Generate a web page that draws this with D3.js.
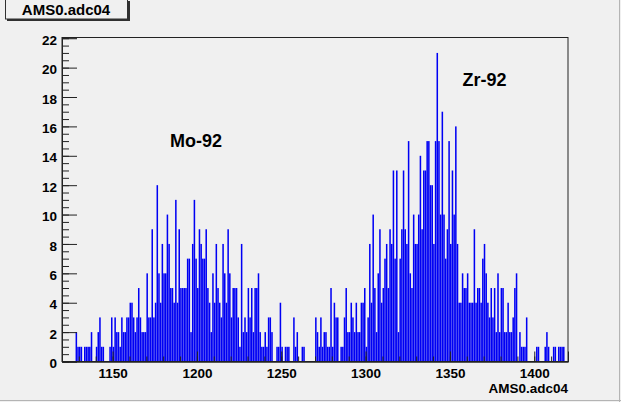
<!DOCTYPE html>
<html>
<head>
<meta charset="utf-8">
<script src="https://cdn.jsdelivr.net/npm/d3@7"></script>
<style>
  html, body { margin: 0; padding: 0; background: #f0f0f0; }
  svg { display: block; }
  text { font-family: "Liberation Sans", Arial, Helvetica, sans-serif; font-weight: bold; }
</style>
</head>
<body>
<svg id="chart" width="621" height="402"></svg>
<script>
// ---- data ----
const histTitle = "AMS0.adc04";
const xAxisTitle = "AMS0.adc04";
const binLow = 1120;       // low edge of first bin
const binWidth = 1;
const counts = [
  0,0,0,0,0,0,0,0,2,1, 1,1,0,1,1,1,1,2,0,0,
  1,2,3,1,1,0,0,0,1,3, 1,3,2,2,1,3,2,2,3,3,
  4,4,3,2,3,5,3,2,2,2, 6,3,3,9,3,4,12,6,4,8,
  6,6,10,8,5,5,4,11,4,9, 5,5,5,5,7,7,2,8,11,7,
  5,9,8,7,7,9,5,4,2,6, 4,8,5,4,3,8,6,4,9,6,
  3,5,5,5,3,1,8,2,3,2, 5,3,5,2,5,5,6,2,1,1,
  2,1,3,3,2,0,0,1,1,4, 1,0,1,1,1,0,0,3,1,2,
  0,0,1,1,0,0,0,0,0,0, 3,2,1,3,1,2,2,1,1,5,
  1,4,3,3,0,1,1,3,5,2, 2,4,3,2,4,2,2,4,4,5,
  1,3,8,4,10,5,2,6,9,4, 5,7,8,5,9,8,13,7,13,2,
  7,9,13,9,8,15,6,5,10,8, 8,10,14,9,13,13,15,15,12,12,
  8,15,21,15,10,17,10,7,9,15, 8,13,10,16,8,4,4,6,5,5,
  6,4,4,4,9,4,5,5,4,7, 8,6,4,3,5,3,5,2,6,2,
  5,5,2,2,4,2,2,3,5,6, 0,2,1,1,1,3,0,0,0,0,
  0,1,1,0,0,0,1,2,1,0, 0,1,1,0,1,1,1,1,0,0
];
const xMajorTicks = [1150, 1200, 1250, 1300, 1350, 1400];
const yMajorTicks = [0, 2, 4, 6, 8, 10, 12, 14, 16, 18, 20, 22];
const peakLabels = ["Mo-92", "Zr-92"];
const peakLabelAt = [[1199.5, 14.6], [1370.5, 18.75]];

// ---- layout ----
const W = 621, H = 402;
const frame = { left: 62, right: 568, top: 37.5, bottom: 361.5 };
const svg = d3.select("#chart");

svg.append("rect").attr("x", 0).attr("y", 0).attr("width", W).attr("height", H).attr("fill", "#f0f0f0");
// window border lines
svg.append("line").attr("x1", 0).attr("x2", W).attr("y1", 400.5).attr("y2", 400.5).attr("stroke", "#b4b4b4");
svg.append("line").attr("x1", 619.5).attr("x2", 619.5).attr("y1", 0).attr("y2", H).attr("stroke", "#b4b4b4");

const xMax = binLow + counts.length * binWidth;
const x = d3.scaleLinear().domain([binLow, xMax]).range([frame.left, frame.right]);
const y = d3.scaleLinear().domain([0, 22.05]).range([frame.bottom, frame.top]);

// bars
const bins = counts.map((c, i) => ({ x0: binLow + i * binWidth, x1: binLow + (i + 1) * binWidth, c }));
svg.append("g").selectAll("rect").data(bins.filter(d => d.c > 0)).join("rect")
  .attr("x", d => x(d.x0) + 0.08)
  .attr("width", d => x(d.x1) - x(d.x0) - 0.16)
  .attr("y", d => y(d.c))
  .attr("height", d => y(0) - y(d.c))
  .attr("fill", "#0000f4");

// frame
svg.append("rect")
  .attr("x", frame.left).attr("y", frame.top)
  .attr("width", frame.right - frame.left).attr("height", frame.bottom - frame.top)
  .attr("fill", "none").attr("stroke", "#222").attr("stroke-width", 1);

// y axis
const yMinor = d3.range(0, 22.01, 0.5);
const yMinorAxis = d3.axisLeft(y).tickValues(yMinor).tickSize(-7).tickFormat("");
const gyMin = svg.append("g").attr("transform", `translate(${frame.left},0)`).call(yMinorAxis);
const yAxis = d3.axisLeft(y).tickValues(yMajorTicks).tickSize(-15).tickPadding(5).tickFormat(d3.format("d"));
const gy = svg.append("g").attr("transform", `translate(${frame.left},0)`).call(yAxis);

// x axis
const xMinor = d3.range(1120, 1421, 10);
const xMinorAxis = d3.axisBottom(x).tickValues(xMinor).tickSize(-5).tickFormat("");
const gxMin = svg.append("g").attr("transform", `translate(0,${frame.bottom})`).call(xMinorAxis);
const xAxis = d3.axisBottom(x).tickValues(xMajorTicks).tickSize(-10).tickPadding(7).tickFormat(d3.format("d"));
const gx = svg.append("g").attr("transform", `translate(0,${frame.bottom})`).call(xAxis);

[gy, gyMin, gx, gxMin].forEach(g => {
  g.select(".domain").attr("stroke", "#222");
  g.selectAll(".tick line").attr("stroke", "#222");
  g.selectAll("text").attr("fill", "#000").style("font-size", "13.5px")
   .style("font-family", "'Liberation Sans', Arial, sans-serif").style("font-weight", "bold");
});
gy.selectAll(".tick text").attr("dy", "0.45em");

// x axis title
svg.append("text").attr("x", frame.right).attr("y", 393).attr("text-anchor", "end")
  .style("font-size", "13.5px").attr("fill", "#000").text(xAxisTitle);

// peak labels
svg.append("g").selectAll("text").data(peakLabels).join("text")
  .attr("x", (d, i) => x(peakLabelAt[i][0]))
  .attr("y", (d, i) => y(peakLabelAt[i][1]))
  .attr("text-anchor", "middle")
  .style("font-size", "18px").attr("fill", "#000")
  .text(d => d);

// title box with shadow
svg.append("rect").attr("x", 7).attr("y", 1).attr("width", 123).attr("height", 20).attr("fill", "#303030");
svg.append("rect").attr("x", 5.5).attr("y", -0.5).attr("width", 122).attr("height", 19.5)
  .attr("fill", "#f0f0f0").attr("stroke", "#303030").attr("stroke-width", 1);
svg.append("text").attr("x", 66).attr("y", 15).attr("text-anchor", "middle")
  .style("font-size", "15px").attr("fill", "#000").text(histTitle);
</script>
</body>
</html>
